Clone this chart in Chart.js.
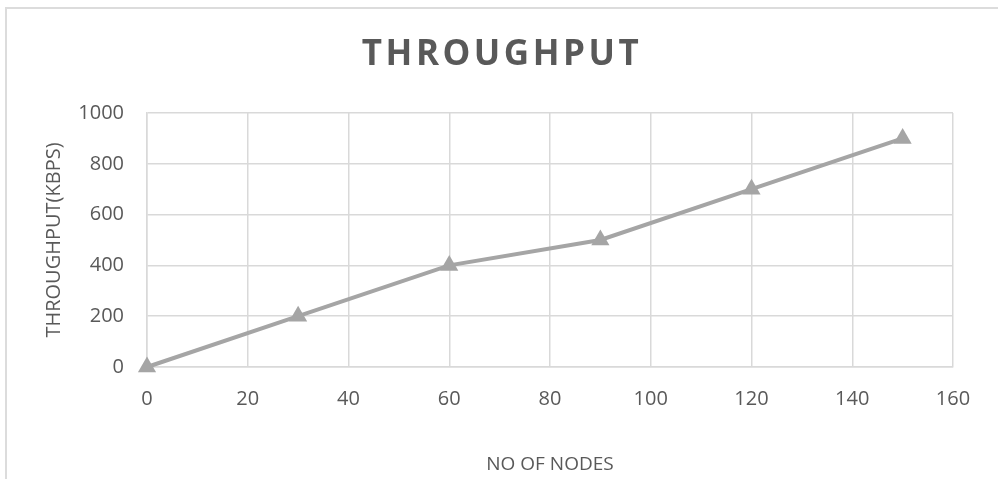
<!DOCTYPE html>
<html>
<head>
<meta charset="utf-8">
<script src="https://cdn.jsdelivr.net/npm/chart.js@4/dist/chart.umd.min.js"></script>
<style>
    body { margin: 0; background: #fff; overflow: hidden; }
    #marco { position: absolute; left: 5px; top: 7px; width: 1200px; height: 700px; border: 2px solid #dcdcdc; }
    #grafico { position: absolute; left: 0; top: 0; }
</style>
</head>
<body>
<div id="marco"></div>
<canvas id="grafico" width="998" height="479"></canvas>
<script>
// datos
const nodos = [0, 30, 60, 90, 120, 150];
const throughput = [0, 200, 400, 500, 700, 900];
const tituloGrafico = 'THROUGHPUT';
const tituloX = 'NO OF NODES';
const tituloY = 'THROUGHPUT(KBPS)';

const gris = '#595959';
const fuente = '"Open Sans", sans-serif';

// titulo con espaciado entre letras (Chart.js no lo soporta directo)
const tituloEspaciado = {
    id: 'tituloEspaciado',
    afterDraw(chart) {
        const bloque = chart.titleBlock;
        const ctx = chart.ctx;
        ctx.save();
        ctx.font = 'bold 35px ' + fuente;
        ctx.fillStyle = gris;
        ctx.letterSpacing = '3.5px';
        ctx.textAlign = 'center';
        ctx.textBaseline = 'middle';
        const cx = chart.width / 2 + 3;
        const cy = bloque.top + 36 + 19;
        ctx.fillText(tituloGrafico, cx, cy);
        ctx.restore();
    }
};

const ctx = document.getElementById('grafico').getContext('2d');
const grafico = new Chart(ctx, {
    type: 'line',
    data: {
        datasets: [{
            data: nodos.map((n, i) => ({x: n, y: throughput[i]})),
            borderColor: '#a5a5a5',
            backgroundColor: '#a5a5a5',
            borderWidth: 4,
            pointStyle: 'triangle',
            pointRadius: 10.5,
            pointBorderWidth: 0,
            pointBackgroundColor: '#a5a5a5',
            tension: 0,
            clip: false
        }]
    },
    options: {
        responsive: false,
        animation: false,
        layout: { padding: { left: 0, right: 45, top: 0, bottom: 0 } },
        plugins: {
            legend: { display: false },
            tooltip: { enabled: false },
            title: {
                display: true,
                text: tituloGrafico,
                color: 'rgba(0,0,0,0)',
                font: { family: fuente, size: 32, weight: 'bold', lineHeight: 1.2 },
                padding: { top: 34, bottom: 40.6 }
            }
        },
        scales: {
            x: {
                type: 'linear',
                min: 0,
                max: 160,
                afterFit(scale) { scale.height = 112; },
                ticks: { stepSize: 20, color: gris, padding: 20, font: { family: fuente, size: 20 } },
                grid: { color: '#d9d9d9', lineWidth: 1.5, drawTicks: false },
                border: { color: '#d9d9d9', width: 1.5 },
                title: {
                    display: true,
                    text: tituloX,
                    color: gris,
                    font: { family: fuente, size: 19 },
                    padding: { top: 0, bottom: 3 }
                }
            },
            y: {
                min: 0,
                max: 1000,
                afterFit(scale) { scale.width = 147; },
                ticks: {
                    stepSize: 200,
                    color: gris,
                    padding: 23,
                    font: { family: fuente, size: 20 },
                    callback: valor => String(valor)
                },
                grid: { color: '#d9d9d9', lineWidth: 1.5, drawTicks: false },
                border: { color: '#d9d9d9', width: 1.5 },
                title: {
                    display: true,
                    text: tituloY,
                    color: gris,
                    font: { family: fuente, size: 20 },
                    padding: { top: 42, bottom: 0 }
                }
            }
        }
    },
    plugins: [tituloEspaciado]
});
</script>
</body>
</html>
